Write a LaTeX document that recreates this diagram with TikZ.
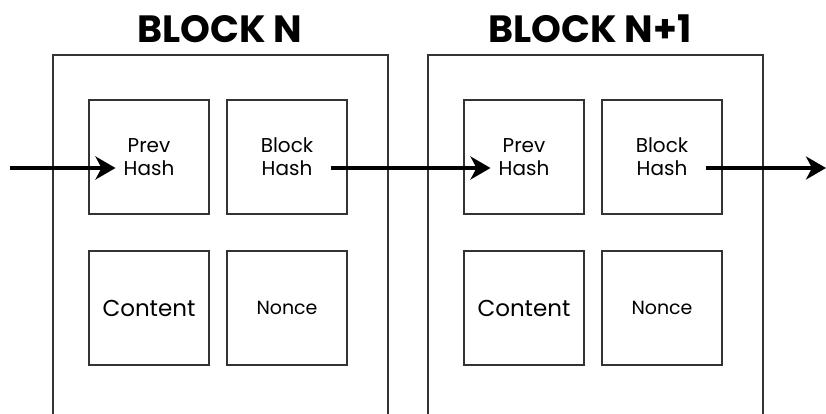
\documentclass[tikz,border=0pt]{standalone}
\usepackage{fontspec}
\setmainfont{Poppins}
\usetikzlibrary{arrows.meta}
\begin{document}
\begin{tikzpicture}[x=1pt,y=-1pt,
  outer/.style={draw=black!80, line width=2pt},
  cell/.style={draw=black!80, line width=2pt, minimum width=120pt, minimum height=114pt, inner sep=0pt, anchor=north west},
  ttl/.style={font=\bfseries\fontsize{38}{38}\selectfont, anchor=base},
  lbl/.style={font=\fontsize{20}{23}\selectfont, align=center, inner sep=0pt},
  big/.style={font=\fontsize{23}{23}\selectfont, inner sep=0pt},
  small/.style={font=\fontsize{19}{19}\selectfont, inner sep=0pt},
  link/.style={line width=4.5pt, -{Stealth[length=20pt,width=23pt,inset=6pt]}}]
\useasboundingbox[fill=white] (0,0) rectangle (826,414);
% titles
\node[ttl] (titleN) at (220,43) {BLOCK N};
\node[ttl] (titleN1) at (590,43) {BLOCK N+1};
% outer blocks (open at bottom)
\draw[outer] (53,415) -- (53,55) -- (388,55) -- (388,415);
\draw[outer] (428,415) -- (428,55) -- (763,55) -- (763,415);
% block N cells
\node[cell] (prevN) at (88,99) {};
\node[cell] (bhN) at (226,99) {};
\node[cell] (contN) at (88,250) {};
\node[cell] (nonN) at (226,250) {};
% block N+1 cells
\node[cell] (prevN1) at (463,99) {};
\node[cell] (bhN1) at (601,99) {};
\node[cell] (contN1) at (463,250) {};
\node[cell] (nonN1) at (601,250) {};
% labels
\node[lbl] (tPrevN) at (prevN.center) {Prev\\Hash};
\node[lbl] (tBhN) at (bhN.center) {Block\\Hash};
\node[big] (tContN) at (contN.center) {Content};
\node[small] (tNonN) at (nonN.center) {Nonce};
\node[lbl] (tPrevN1) at (prevN1.center) {Prev\\Hash};
\node[lbl] (tBhN1) at (bhN1.center) {Block\\Hash};
\node[big] (tContN1) at (contN1.center) {Content};
\node[small] (tNonN1) at (nonN1.center) {Nonce};
% links
\coordinate (inN) at (10,168);
\coordinate (outN1) at (826,168);
\draw[link, shorten >=8pt] (inN) -- (tPrevN.west |- inN);
\draw[link, shorten <=18pt, shorten >=8pt] (tBhN.east |- inN) -- (tPrevN1.west |- inN);
\draw[link, shorten <=18pt] (tBhN1.east |- inN) -- (outN1);
\end{tikzpicture}
\end{document}
